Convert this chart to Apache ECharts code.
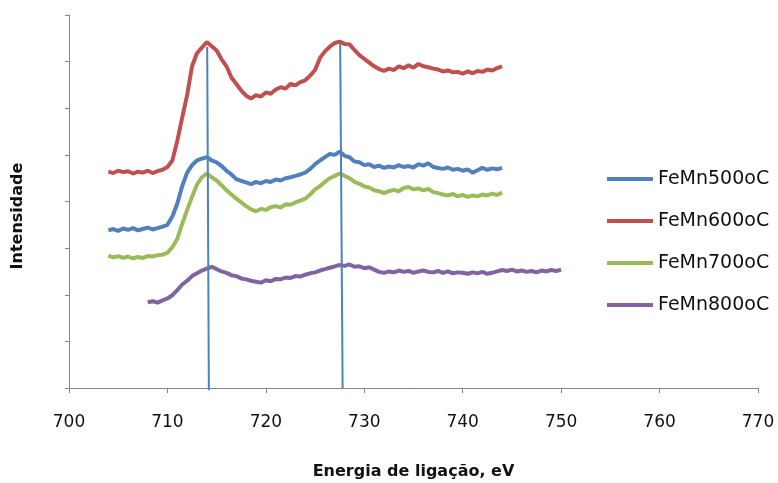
<!DOCTYPE html>
<html>
<head>
<meta charset="utf-8">
<script src="https://cdn.jsdelivr.net/npm/echarts@6/dist/echarts.min.js"></script>
<style>
  html, body { margin: 0; padding: 0; background: #fff; }
  #main { width: 778px; height: 483px; }
</style>
</head>
<body>
<div id="main"></div>
<script>
var seriesNames = ["FeMn500oC", "FeMn600oC", "FeMn700oC", "FeMn800oC"];
var seriesColors = ["#4F81BD", "#C0504D", "#9BBB59", "#8064A2"];

// binding energy grid (eV) for the 500/600/700 samples
var energyA = [704, 704.5, 705, 705.5, 706, 706.5, 707, 707.5, 708, 708.5, 709, 709.5,
  710, 710.5, 711, 711.5, 712, 712.5, 713, 713.5, 714, 714.5, 715, 715.5, 716, 716.5,
  717, 717.5, 718, 718.5, 719, 719.5, 720, 720.5, 721, 721.5, 722, 722.5, 723, 723.5,
  724, 724.5, 725, 725.5, 726, 726.5, 727, 727.5, 728, 728.5, 729, 729.5, 730, 730.5,
  731, 731.5, 732, 732.5, 733, 733.5, 734, 734.5, 735, 735.5, 736, 736.5, 737, 737.5,
  738, 738.5, 739, 739.5, 740, 740.5, 741, 741.5, 742, 742.5, 743, 743.5, 744];

// grid for the 800 sample
var energyB = [708, 708.5, 709, 709.5, 710, 710.5, 711, 711.5, 712, 712.5, 713, 713.5,
  714, 714.5, 715, 715.5, 716, 716.5, 717, 717.5, 718, 718.5, 719, 719.5, 720, 720.5,
  721, 721.5, 722, 722.5, 723, 723.5, 724, 724.5, 725, 725.5, 726, 726.5, 727, 727.5,
  728, 728.5, 729, 729.5, 730, 730.5, 731, 731.5, 732, 732.5, 733, 733.5, 734, 734.5,
  735, 735.5, 736, 736.5, 737, 737.5, 738, 738.5, 739, 739.5, 740, 740.5, 741, 741.5,
  742, 742.5, 743, 743.5, 744, 744.5, 745, 745.5, 746, 746.5, 747, 747.5, 748, 748.5,
  749, 749.5, 750];

var fe500 = [3.38, 3.41, 3.37, 3.42, 3.39, 3.43, 3.38, 3.41, 3.44, 3.40, 3.43, 3.46,
  3.50, 3.68, 3.95, 4.33, 4.62, 4.78, 4.88, 4.92, 4.95, 4.88, 4.84, 4.76, 4.66, 4.58,
  4.48, 4.44, 4.41, 4.37, 4.42, 4.39, 4.44, 4.42, 4.47, 4.45, 4.50, 4.52, 4.55, 4.58,
  4.62, 4.70, 4.80, 4.88, 4.95, 5.02, 5.00, 5.07, 4.98, 4.95, 4.86, 4.84, 4.78, 4.80,
  4.74, 4.77, 4.72, 4.75, 4.73, 4.78, 4.74, 4.76, 4.73, 4.80, 4.77, 4.82, 4.74, 4.72,
  4.70, 4.73, 4.68, 4.70, 4.66, 4.69, 4.62, 4.67, 4.72, 4.68, 4.71, 4.69, 4.72];

var fe600 = [4.64, 4.61, 4.66, 4.63, 4.65, 4.60, 4.64, 4.62, 4.66, 4.61, 4.65, 4.68,
  4.74, 4.88, 5.30, 5.80, 6.28, 6.90, 7.18, 7.30, 7.42, 7.33, 7.24, 7.05, 6.90, 6.66,
  6.52, 6.38, 6.27, 6.21, 6.28, 6.25, 6.34, 6.31, 6.40, 6.45, 6.42, 6.52, 6.49, 6.56,
  6.60, 6.70, 6.82, 7.08, 7.22, 7.32, 7.40, 7.43, 7.38, 7.37, 7.25, 7.14, 7.06, 6.98,
  6.90, 6.84, 6.80, 6.85, 6.82, 6.90, 6.86, 6.92, 6.87, 6.95, 6.90, 6.88, 6.85, 6.83,
  6.79, 6.81, 6.77, 6.78, 6.74, 6.79, 6.75, 6.80, 6.78, 6.83, 6.81, 6.86, 6.90];

var fe700 = [2.84, 2.80, 2.83, 2.79, 2.82, 2.78, 2.81, 2.79, 2.83, 2.82, 2.85, 2.86,
  2.90, 3.02, 3.20, 3.52, 3.82, 4.10, 4.36, 4.52, 4.60, 4.52, 4.45, 4.35, 4.24, 4.15,
  4.06, 3.98, 3.90, 3.83, 3.79, 3.84, 3.82, 3.88, 3.90, 3.87, 3.94, 3.93, 3.98, 4.02,
  4.06, 4.15, 4.26, 4.33, 4.42, 4.50, 4.55, 4.60, 4.55, 4.50, 4.42, 4.38, 4.32, 4.30,
  4.24, 4.22, 4.18, 4.22, 4.25, 4.22, 4.29, 4.31, 4.26, 4.28, 4.24, 4.27, 4.20, 4.18,
  4.15, 4.13, 4.16, 4.11, 4.14, 4.10, 4.13, 4.11, 4.15, 4.13, 4.17, 4.14, 4.19];

var fe800 = [1.84, 1.86, 1.83, 1.88, 1.92, 1.99, 2.10, 2.22, 2.30, 2.40, 2.46, 2.52,
  2.56, 2.60, 2.55, 2.50, 2.47, 2.42, 2.40, 2.35, 2.33, 2.30, 2.28, 2.26, 2.31, 2.29,
  2.34, 2.33, 2.37, 2.36, 2.40, 2.39, 2.43, 2.46, 2.48, 2.52, 2.55, 2.58, 2.61, 2.64,
  2.62, 2.65, 2.60, 2.61, 2.57, 2.59, 2.54, 2.49, 2.47, 2.50, 2.48, 2.52, 2.49, 2.51,
  2.47, 2.50, 2.52, 2.49, 2.48, 2.51, 2.47, 2.50, 2.46, 2.48, 2.47, 2.45, 2.48, 2.46,
  2.49, 2.45, 2.47, 2.50, 2.53, 2.51, 2.54, 2.50, 2.52, 2.49, 2.51, 2.48, 2.52, 2.50,
  2.53, 2.51, 2.54];

// hand-drawn peak markers (start, end)
var peakLine1 = [[714.04, 7.32], [714.21, -0.05]];
var peakLine2 = [[727.55, 7.40], [727.8, 0]];

function pairs(xs, ys) {
  return xs.map(function (x, i) { return [x, ys[i]]; });
}

var myChart = echarts.init(document.getElementById("main"));
var curves = [
  pairs(energyA, fe500),
  pairs(energyA, fe600),
  pairs(energyA, fe700),
  pairs(energyB, fe800)
];

var series = [];
curves.forEach(function (d, i) {
  series.push({
    name: seriesNames[i],
    type: "line",
    data: d,
    symbol: "none",
    lineStyle: { color: seriesColors[i], width: 4 },
    itemStyle: { color: seriesColors[i] },
    z: 3
  });
});
[peakLine1, peakLine2].forEach(function (d, i) {
  series.push({
    name: "peak" + (i + 1),
    type: "line",
    data: d,
    symbol: "none",
    clip: false,
    lineStyle: { color: "#4F81BD", width: 2 },
    z: 4
  });
});

var option = {
  animation: false,
  textStyle: { fontFamily: "DejaVu Sans" },
  grid: { left: 69, right: 20, top: 15, bottom: 95, outerBoundsMode: "none" },
  legend: {
    orient: "vertical",
    left: 607,
    top: 169,
    padding: 0,
    itemWidth: 46,
    itemHeight: 4,
    itemGap: 22,
    icon: "rect",
    selectedMode: false,
    data: seriesNames,
    textStyle: { color: "#111", fontSize: 19, lineHeight: 20, fontFamily: "DejaVu Sans" }
  },
  xAxis: {
    type: "value",
    min: 700,
    max: 770,
    interval: 10,
    name: "Energia de ligação, eV",
    nameLocation: "middle",
    nameGap: 76,
    nameTextStyle: { color: "#111", fontSize: 16, fontWeight: "bold", fontFamily: "DejaVu Sans" },
    axisLine: { lineStyle: { color: "#868686", width: 1 } },
    axisTick: { show: true, length: 5, lineStyle: { color: "#868686" } },
    axisLabel: { color: "#111", fontSize: 17, margin: 26 },
    splitLine: { show: false }
  },
  yAxis: {
    type: "value",
    min: 0,
    max: 8,
    interval: 1,
    axisLine: { show: true, lineStyle: { color: "#868686", width: 1 } },
    axisTick: { show: true, length: 4, lineStyle: { color: "#868686" } },
    axisLabel: { show: false },
    splitLine: { show: false }
  },
  graphic: [
    {
      type: "text",
      x: 18,
      y: 216,
      rotation: Math.PI / 2,
      style: {
        text: "Intensidade",
        fill: "#111",
        font: "bold 16px 'DejaVu Sans'",
        align: "center",
        verticalAlign: "middle"
      }
    }
  ],
  series: series
};
myChart.setOption(option);
</script>
</body>
</html>
